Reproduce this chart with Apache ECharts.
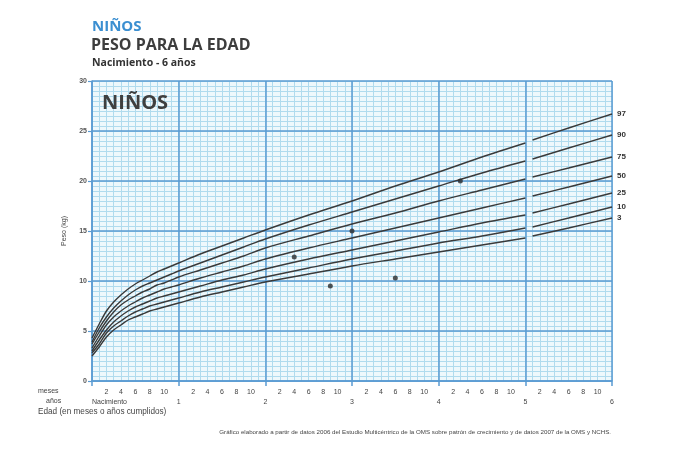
<!DOCTYPE html>
<html><head><meta charset="utf-8">
<script src="https://cdn.jsdelivr.net/npm/echarts@6/dist/echarts.min.js"></script>
<style>html,body{margin:0;padding:0;background:#fff}#c{width:680px;height:453px}</style>
</head><body><div id="c"></div>
<script>
// ---- data ----
const monthTicks = [2, 4, 6, 8, 10];
const yearLabels = ['Nacimiento', '1', '2', '3', '4', '5', '6'];
const weightTicks = [0, 5, 10, 15, 20, 25, 30];
const pctNames = ['3', '10', '25', '50', '75', '90', '97'];

// WHO 2006 segment, age in months
const ageA = [0, 1, 2, 3, 4, 5, 6, 7, 8, 9, 10, 11, 12, 15, 18, 21, 24, 30, 36, 42, 48, 54, 60];
const p3A  = [2.5, 3.4, 4.4, 5.1, 5.6, 6.1, 6.4, 6.7, 7.0, 7.2, 7.4, 7.6, 7.8, 8.4, 8.9, 9.4, 9.9, 10.7, 11.5, 12.2, 12.9, 13.6, 14.3];
const p10A = [2.8, 3.7, 4.8, 5.5, 6.0, 6.5, 6.9, 7.2, 7.5, 7.7, 7.9, 8.1, 8.3, 8.9, 9.4, 9.9, 10.4, 11.3, 12.2, 13.0, 13.8, 14.5, 15.3];
const p25A = [3.0, 4.1, 5.1, 5.9, 6.5, 7.0, 7.4, 7.7, 8.0, 8.3, 8.5, 8.7, 8.9, 9.5, 10.1, 10.6, 11.2, 12.2, 13.1, 14.0, 14.9, 15.8, 16.6];
const p50A = [3.3, 4.5, 5.6, 6.4, 7.0, 7.5, 7.9, 8.3, 8.6, 8.9, 9.2, 9.4, 9.6, 10.3, 10.9, 11.5, 12.2, 13.3, 14.3, 15.3, 16.3, 17.3, 18.3];
const p75A = [3.7, 4.9, 6.0, 6.9, 7.6, 8.1, 8.5, 8.9, 9.2, 9.6, 9.8, 10.1, 10.4, 11.1, 11.8, 12.5, 13.3, 14.5, 15.7, 16.8, 18.0, 19.1, 20.2];
const p90A = [3.9, 5.3, 6.4, 7.3, 8.0, 8.6, 9.1, 9.5, 9.8, 10.1, 10.4, 10.7, 11.0, 11.8, 12.6, 13.4, 14.2, 15.6, 16.9, 18.2, 19.5, 20.8, 22.0];
const p97A = [4.3, 5.7, 7.0, 7.9, 8.6, 9.2, 9.7, 10.1, 10.5, 10.9, 11.2, 11.5, 11.8, 12.7, 13.5, 14.3, 15.1, 16.6, 18.0, 19.5, 20.9, 22.4, 23.8];

// WHO 2007 / NCHS segment
const ageB = [61, 66, 72];
const p3B  = [14.5, 15.3, 16.3];
const p10B = [15.4, 16.3, 17.4];
const p25B = [16.8, 17.7, 18.8];
const p50B = [18.5, 19.4, 20.5];
const p75B = [20.4, 21.3, 22.4];
const p90B = [22.2, 23.3, 24.6];
const p97B = [24.1, 25.3, 26.7];

// child measurements
const childAge    = [28, 33, 36, 42, 51];
const childWeight = [12.4, 9.5, 15.0, 10.3, 20.0];

// ---- chart ----
const segA = [p3A, p10A, p25A, p50A, p75A, p90A, p97A];
const segB = [p3B, p10B, p25B, p50B, p75B, p90B, p97B];
const minorC = '#b0dbee', majorC = '#5a9bd2', curveC = '#3a3a3a';
const lblFont = 'Liberation Sans';

const series = [];
pctNames.forEach((n, i) => {
  series.push({
    type: 'line', name: n, xAxisIndex: 1, yAxisIndex: 1,
    data: ageA.map((a, j) => [a, segA[i][j]]),
    showSymbol: false, smooth: 0.3, silent: true, z: 3,
    lineStyle: { color: curveC, width: 1.4 }
  });
  series.push({
    type: 'line', name: n, xAxisIndex: 1, yAxisIndex: 1,
    data: ageB.map((a, j) => [a, segB[i][j]]),
    showSymbol: false, smooth: 0.3, silent: true, z: 3,
    lineStyle: { color: curveC, width: 1.4 },
    endLabel: { show: true, formatter: n, distance: 5, fontSize: 8, fontWeight: 'bold',
                color: '#333', fontFamily: lblFont }
  });
});
series.push({
  type: 'scatter', xAxisIndex: 1, yAxisIndex: 1, z: 4,
  data: childAge.map((a, j) => [a, childWeight[j]]),
  symbolSize: 5, itemStyle: { color: '#2a2a2a' }
});

const chart = echarts.init(document.getElementById('c'), null, { renderer: 'canvas' });
chart.setOption({
  animation: false,
  backgroundColor: '#ffffff',
  grid: { left: 92, right: 68, top: 81, bottom: 72, show: true, backgroundColor: '#eef8fc', borderWidth: 0 },
  title: [
    { text: 'NIÑOS', left: 92, top: 19, padding: 0,
      textStyle: { color: '#3b8fd1', fontSize: 15, fontWeight: 'bold', fontFamily: 'Open Sans' } },
    { text: 'PESO PARA LA EDAD', left: 91, top: 37, padding: 0,
      textStyle: { color: '#3d3d3d', fontSize: 16, fontWeight: 'bold', fontFamily: 'Open Sans' } },
    { text: 'Nacimiento - 6 años', left: 92, top: 58, padding: 0,
      textStyle: { color: '#333', fontSize: 10.5, fontWeight: 'bold', fontFamily: 'Open Sans' } },
    { text: 'NIÑOS', left: 102, top: 93, padding: 0,
      textStyle: { color: '#3f3f3f', fontSize: 20, fontWeight: 'bold', fontFamily: 'Open Sans' } },
    { text: 'Edad (en meses o años cumplidos)', left: 38, top: 408, padding: 0,
      textStyle: { color: '#444', fontSize: 8.2, fontWeight: 'normal', fontFamily: lblFont } },
    { text: 'Gráfico elaborado a partir de datos 2006 del Estudio Multicéntrico de la OMS sobre patrón de crecimiento y de datos 2007 de la OMS y NCHS.',
      right: 69, top: 429, padding: 0,
      textStyle: { color: '#444', fontSize: 6.2, fontWeight: 'normal', fontFamily: lblFont } },
    { text: 'meses', left: 38, top: 388, padding: 0,
      textStyle: { color: '#444', fontSize: 7, fontWeight: 'normal', fontFamily: lblFont } },
    { text: 'años', left: 46, top: 398, padding: 0,
      textStyle: { color: '#444', fontSize: 7, fontWeight: 'normal', fontFamily: lblFont } }
  ],
  xAxis: [
    { type: 'value', min: 0, max: 72, interval: 1, position: 'bottom', z: 0,
      axisLine: { show: false }, axisTick: { show: false },
      axisLabel: { margin: 8, fontSize: 7, color: '#444', fontFamily: lblFont,
        formatter: v => monthTicks.includes(v % 12) ? String(v % 12) : '' },
      splitLine: { show: true, lineStyle: { color: minorC, width: 1 } } },
    { type: 'value', min: 0, max: 72, interval: 12, position: 'bottom', z: 1,
      axisLine: { show: true, lineStyle: { color: majorC, width: 1.5 } },
      axisTick: { show: true, length: 5, lineStyle: { color: majorC, width: 1.5 } },
      axisLabel: { margin: 18, fontSize: 7, color: '#444', fontFamily: lblFont, alignMinLabel: 'left',
        formatter: v => yearLabels[v / 12] },
      splitLine: { show: true, lineStyle: { color: majorC, width: 1.5 } } }
  ],
  yAxis: [
    { type: 'value', min: 0, max: 30, interval: 0.5, position: 'left', z: 0,
      axisLine: { show: false }, axisTick: { show: false }, axisLabel: { show: false },
      splitLine: { show: true, lineStyle: { color: minorC, width: 1 } } },
    { type: 'value', min: 0, max: 30, interval: 5, position: 'left', z: 1,
      name: 'Peso (kg)', nameLocation: 'middle', nameGap: 24, nameRotate: 90,
      nameTextStyle: { fontSize: 7, color: '#444', fontFamily: lblFont },
      axisLine: { show: true, lineStyle: { color: majorC, width: 1.5 } },
      axisTick: { show: true, length: 4, lineStyle: { color: majorC, width: 1.2 } },
      axisLabel: { margin: 5, fontSize: 7, fontWeight: 'bold', color: '#555', fontFamily: lblFont,
        formatter: v => weightTicks.includes(v) ? String(v) : '' },
      splitLine: { show: true, lineStyle: { color: majorC, width: 1.5 } } }
  ],
  series: series
});
</script>
</body></html>
